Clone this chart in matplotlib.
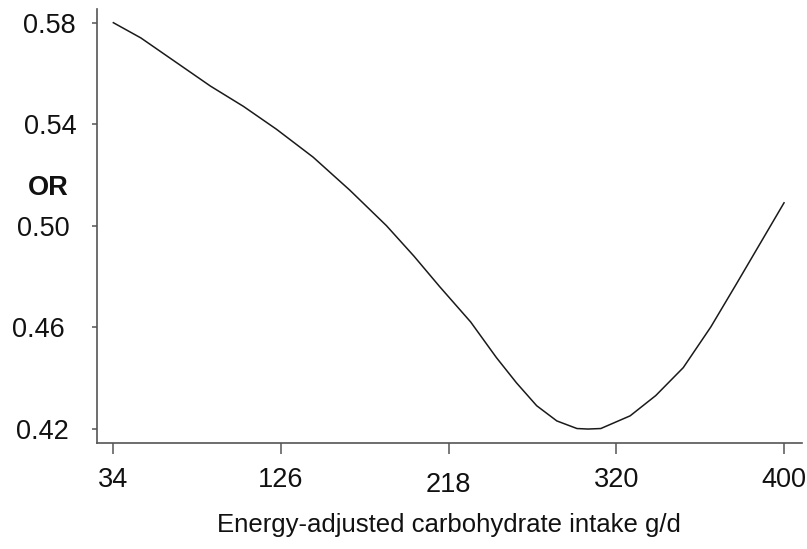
import matplotlib
matplotlib.use("Agg")
import matplotlib.pyplot as plt
import numpy as np

# values
intake = [34, 49, 67, 87, 105, 123, 143, 163, 183, 198, 212, 229, 243,
          254, 265, 276, 287, 293, 300, 316, 330, 345, 360, 374, 387, 400]
odds_ratio = [0.580, 0.574, 0.565, 0.555, 0.547, 0.538, 0.527, 0.514, 0.500,
              0.488, 0.476, 0.462, 0.448, 0.438, 0.429, 0.423, 0.420, 0.4198,
              0.420, 0.425, 0.433, 0.444, 0.460, 0.477, 0.493, 0.509]

x_tick_labels = ["34", "126", "218", "320", "400"]
y_ticks = [0.42, 0.46, 0.50, 0.54, 0.58]
y_tick_labels = ["0.42", "0.46", "0.50", "0.54", "0.58"]

plt.rcParams['font.family'] = ['Liberation Sans', 'DejaVu Sans']

fig = plt.figure(figsize=(8.07, 5.49), dpi=100)
ax = fig.add_axes([0.1198, 0.1931, 0.874, 0.7905])

ax.plot(intake, odds_ratio, color='#1a1a1a', lw=1.1, solid_joinstyle='round')

ax.set_xlim(24.9, 409.8)
ax.set_ylim(0.4143, 0.5854)

ax.set_xticks(np.linspace(intake[0], intake[-1], len(x_tick_labels)))
ax.set_xticklabels(x_tick_labels)
ax.set_yticks(y_ticks)
ax.set_yticklabels(y_tick_labels)

for side in ['top', 'right']:
    ax.spines[side].set_visible(False)
for side in ['left', 'bottom']:
    ax.spines[side].set_color('#555555')
    ax.spines[side].set_linewidth(1.2)

ax.tick_params(axis='x', length=8, width=1.1, color='#555555', labelsize=19.5,
               labelcolor='#111111', pad=10)
ax.tick_params(axis='y', length=3.6, width=1.1, color='#555555', labelsize=19.5,
               labelcolor='#111111', pad=14)

# the reference has slightly uneven label offsets
y_pads = [16.8, 19.2, 15.6, 10.9, 11.7]
for tk, p in zip(ax.yaxis.get_major_ticks(), y_pads):
    tk.set_pad(p)
x_pads = [9.5, 9.5, 13, 9.5, 9.5]
for tk, p in zip(ax.xaxis.get_major_ticks(), x_pads):
    tk.set_pad(p)

ax.set_xlabel("Energy-adjusted carbohydrate intake g/d", fontsize=18.5,
              color='#111111', va='center')
ax.xaxis.set_label_coords(0.5, -0.19)
ax.set_ylabel("OR", rotation=0, fontsize=19.5, fontweight='bold',
              color='#111111', ha='center', va='center')
ax.yaxis.set_label_coords(-0.069, 0.588)

fig.savefig("out.png", dpi=100)
